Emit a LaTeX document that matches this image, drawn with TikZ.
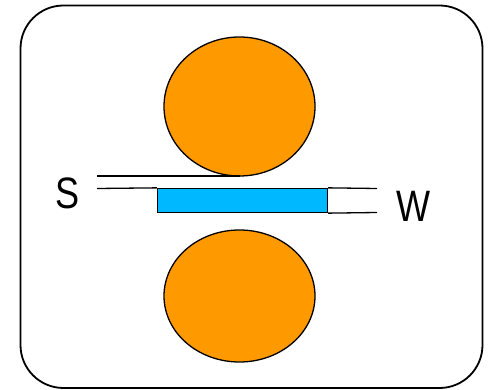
\documentclass[tikz,border=0pt]{standalone}
\usepackage{fontspec}
\setmainfont{Liberation Sans}
\usetikzlibrary{shapes.geometric}
\definecolor{rollor}{HTML}{FF9900}
\definecolor{stripblue}{HTML}{00B8FF}
\begin{document}
\begin{tikzpicture}[x=1pt,y=-1pt,
  roll/.style={ellipse,draw=black,line width=1.3pt,fill=rollor,inner sep=0pt},
  strip/.style={draw=black,line width=1.3pt,fill=stripblue,inner sep=0pt},
  sheet/.style={draw=black,line width=1.3pt},
  lbl/.style={font=\fontsize{44}{44}\selectfont,inner sep=0pt,xscale=0.82}]
\useasboundingbox (0,0) rectangle (488,390);
\draw[line width=1.8pt,rounded corners=43pt] (20.5,5.5) rectangle (482.5,388);
\node[roll,minimum width=151pt,minimum height=139pt] (top) at (239.5,106.5) {};
\node[roll,minimum width=151pt,minimum height=132pt] (bot) at (239.5,296) {};
\node[strip,minimum width=170pt,minimum height=24pt] (blk) at (242.5,200.5) {};
\coordinate (s1) at (97,176);
\coordinate (s1e) at (240,176);
\coordinate (s2) at (97,188.5);
\coordinate (w1) at (377,188.5);
\coordinate (w2) at (377,212.5);
\draw[sheet] (s1) -- (s1e);
\draw[sheet] (s2) -- (blk.north west);
\draw[sheet] (blk.north east) -- (w1);
\draw[sheet] (blk.south east) -- (w2);
\node[lbl] (S) at (67.5,193) {S};
\node[lbl] (W) at (414,206) {W};
\end{tikzpicture}
\end{document}
